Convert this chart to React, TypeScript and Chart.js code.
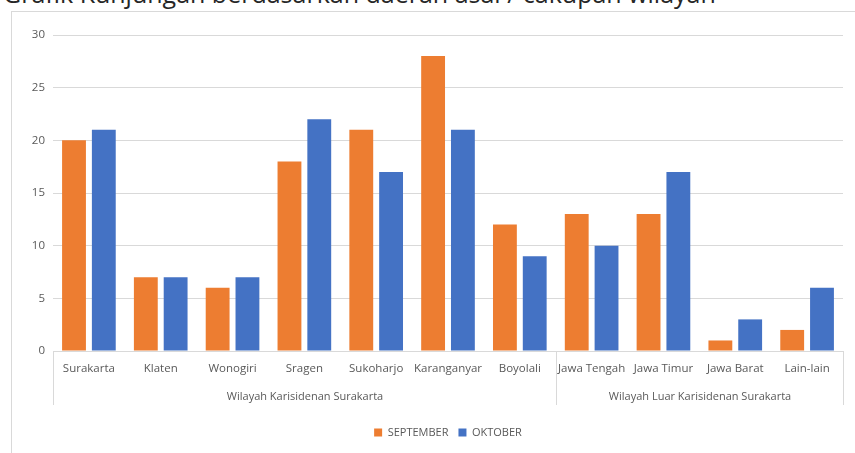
import React, { useEffect, useRef } from "react";
import { Chart, registerables } from "chart.js";

Chart.register(...registerables);

const categories = [
  "Surakarta", "Klaten", "Wonogiri", "Sragen", "Sukoharjo", "Karanganyar", "Boyolali",
  "Jawa Tengah", "Jawa Timur", "Jawa Barat", "Lain-lain",
];
const septemberValues = [20, 7, 6, 18, 21, 28, 12, 13, 13, 1, 2];
const oktoberValues = [21, 7, 7, 22, 17, 21, 9, 10, 17, 3, 6];
const groupLabels = ["Wilayah Karisidenan Surakarta", "Wilayah Luar Karisidenan Surakarta"];
const groupSpans = [[0, 6], [7, 10]];
const seriesNames = ["SEPTEMBER", "OKTOBER"];
const titleText = "Grafik Kunjungan berdasarkan daerah asal / cakupan wilayah";

const FONT = "'Open Sans', 'Liberation Sans', sans-serif";
const LINE = "#d9d9d9";
const TEXT = "#595959";

const groupPlugin = {
  id: "groupPlugin",
  afterDraw(chart: any) {
    const xs = chart.scales.x;
    const ctx = chart.ctx;
    const half = (xs.getPixelForValue(1) - xs.getPixelForValue(0)) / 2;
    const top = xs.top;
    const h = 54;
    ctx.save();
    ctx.strokeStyle = LINE;
    ctx.lineWidth = 1;
    ctx.fillStyle = TEXT;
    ctx.font = `11px ${FONT}`;
    ctx.textAlign = "center";
    ctx.textBaseline = "middle";
    groupSpans.forEach(([s, e], i) => {
      const l = Math.round(xs.getPixelForValue(s) - half) + 0.5;
      const r = Math.round(xs.getPixelForValue(e) + half) + 0.5;
      ctx.beginPath();
      ctx.moveTo(l, top);
      ctx.lineTo(l, top + h);
      ctx.moveTo(r, top);
      ctx.lineTo(r, top + h);
      ctx.stroke();
      ctx.fillText(groupLabels[i], (l + r) / 2, top + 46);
    });
    ctx.restore();
  },
};

export default function App() {
  const ref = useRef<HTMLCanvasElement>(null);
  useEffect(() => {
    if (!ref.current) return;
    const chart = new Chart(ref.current, {
      type: "bar",
      data: {
        labels: categories,
        datasets: [
          { label: seriesNames[0], data: septemberValues, backgroundColor: "#ED7D31", barPercentage: 0.8, categoryPercentage: 0.83 },
          { label: seriesNames[1], data: oktoberValues, backgroundColor: "#4472C4", barPercentage: 0.8, categoryPercentage: 0.83 },
        ],
      },
      options: {
        animation: false,
        responsive: true,
        maintainAspectRatio: false,
        layout: { padding: { top: 23, right: 12, bottom: 5, left: 0 } },
        plugins: {
          legend: {
            position: "bottom",
            fullSize: false,
            labels: {
              boxWidth: 8,
              boxHeight: 8,
              padding: 10,
              color: TEXT,
              font: { family: FONT, size: 11 },
            },
          },
          tooltip: { enabled: false },
          title: { display: false },
        },
        scales: {
          x: {
            grid: { display: false },
            border: { color: LINE },
            ticks: { color: TEXT, font: { family: FONT, size: 11.5 }, padding: 3, maxRotation: 0, autoSkip: false },
            afterFit: (s: any) => { s.height = 66; },
          },
          y: {
            min: 0,
            max: 30,
            ticks: { stepSize: 5, color: TEXT, font: { family: FONT, size: 11.5 }, padding: 8 },
            grid: { color: LINE, drawTicks: false },
            border: { display: false },
            afterFit: (s: any) => { s.width = 41; },
          },
        },
      },
      plugins: [groupPlugin],
    });
    return () => chart.destroy();
  }, []);

  return (
    <div style={{ position: "fixed", left: 0, top: 0, width: 855, height: 453, overflow: "hidden", background: "#fff" }}>
      <div
        style={{
          position: "absolute",
          left: 3,
          top: -19,
          fontFamily: FONT,
          fontSize: 25,
          lineHeight: "25px",
          color: "#262626",
          whiteSpace: "nowrap",
        }}
      >
        {titleText}
      </div>
      <div
        style={{
          position: "absolute",
          left: 11,
          top: 11,
          width: 900,
          height: 500,
          border: `1px solid ${LINE}`,
        }}
      />
      <div style={{ position: "absolute", left: 12, top: 12, width: 843, height: 441 }}>
        <canvas ref={ref} />
      </div>
    </div>
  );
}
